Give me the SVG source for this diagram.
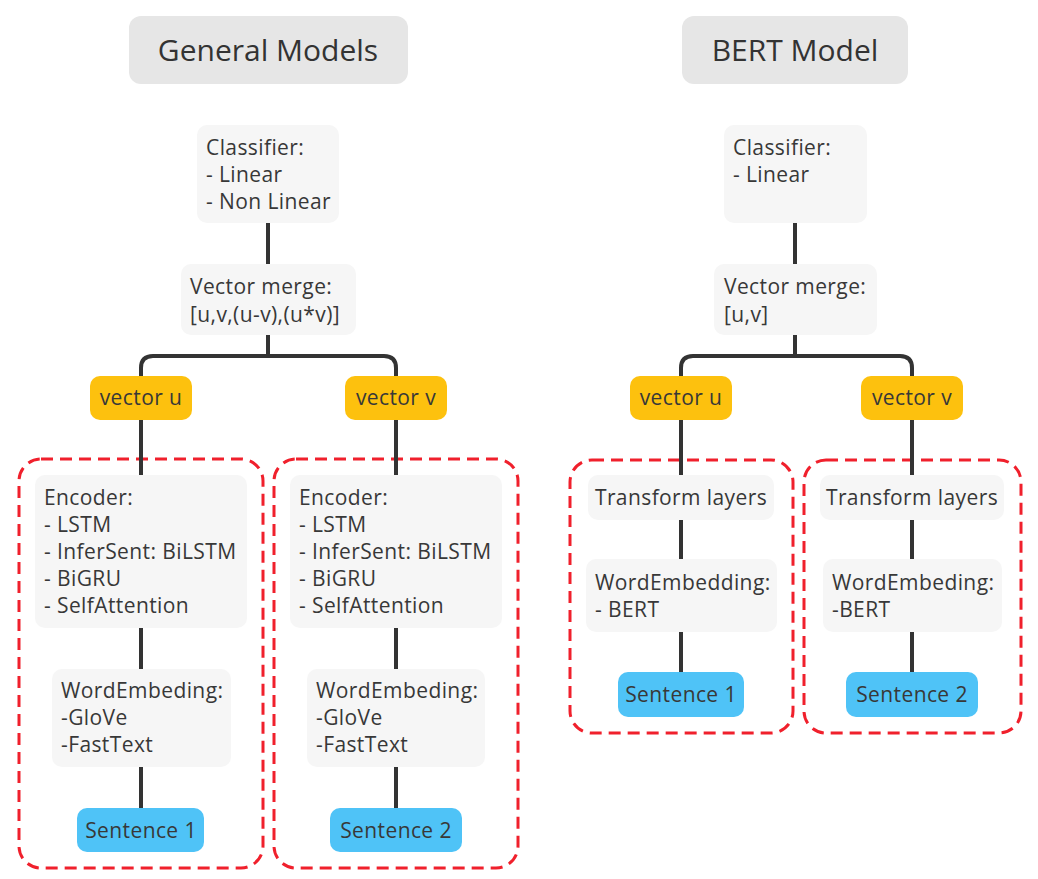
<svg xmlns="http://www.w3.org/2000/svg" width="1038" height="879" viewBox="0 0 1038 879">
<style>
.t{font-family:"Open Sans","Noto Sans",sans-serif;font-size:21px;letter-spacing:0.4px;fill:#383838}
.ttl{font-family:"Open Sans","Noto Sans",sans-serif;font-size:30px;fill:#333;text-anchor:middle}
.c{text-anchor:middle}
.box{fill:#f6f6f6}
.head{fill:#e6e6e6}
.vec{fill:#fdc10e}
.sen{fill:#4fc3f7}
.grp{fill:none;stroke:#f0202c;stroke-width:3;stroke-dasharray:12 7}
.ln{fill:none;stroke:#333;stroke-width:4}
</style>
<rect width="1038" height="879" fill="#fff"/>
<g id="groups">
<rect class="grp" x="19" y="459" width="244" height="409" rx="22"/>
<rect class="grp" x="274" y="459" width="244" height="409" rx="22"/>
<rect class="grp" x="570" y="460" width="223" height="273" rx="22"/>
<rect class="grp" x="804" y="460" width="217" height="273" rx="22"/>
</g>
<g id="connectors">
<path class="ln" d="M268,223V264"/>
<path class="ln" d="M268,335V356M141,378V368Q141,356 153,356H384Q396,356 396,368V378"/>
<path class="ln" d="M141,420V475M396,420V475"/>
<path class="ln" d="M141,628V669M396,628V669"/>
<path class="ln" d="M141,767V808M396,767V808"/>
<path class="ln" d="M795,223V264"/>
<path class="ln" d="M795,335V356M681,378V368Q681,356 693,356H900Q912,356 912,368V378"/>
<path class="ln" d="M681,420V475M912,420V475"/>
<path class="ln" d="M681,520V559M912,520V559"/>
<path class="ln" d="M681,632V672M912,632V672"/>
</g>
<g id="title-general"><rect class="head" x="129" y="16" width="279" height="68" rx="12"/><text class="ttl" x="268" y="61">General Models</text></g>
<g id="title-bert"><rect class="head" x="682" y="16" width="226" height="68" rx="12"/><text class="ttl" x="795" y="61">BERT Model</text></g>

<g id="g-classifier"><rect class="box" x="197" y="125" width="142" height="98" rx="10"/>
<text class="t" x="206" y="155">Classifier:</text><text class="t" x="206" y="182">- Linear</text><text class="t" x="206" y="209">- Non Linear</text></g>
<g id="g-merge"><rect class="box" x="181" y="264" width="175" height="71" rx="10"/>
<text class="t" x="190" y="294">Vector merge:</text><text class="t" x="190" y="322">[u,v,(u-v),(u*v)]</text></g>
<g id="g-vecu"><rect class="vec" x="90" y="376" width="102" height="44" rx="10"/><text class="t c" x="141" y="405">vector u</text></g>
<g id="g-vecv"><rect class="vec" x="345" y="376" width="102" height="44" rx="10"/><text class="t c" x="396" y="405">vector v</text></g>
<g id="g-enc1"><rect class="box" x="35" y="475" width="212" height="153" rx="10"/>
<text class="t" x="44" y="505">Encoder:</text><text class="t" x="44" y="532">- LSTM</text><text class="t" x="44" y="559">- InferSent: BiLSTM</text><text class="t" x="44" y="586">- BiGRU</text><text class="t" x="44" y="613">- SelfAttention</text></g>
<g id="g-enc2"><rect class="box" x="290" y="475" width="212" height="153" rx="10"/>
<text class="t" x="299" y="505">Encoder:</text><text class="t" x="299" y="532">- LSTM</text><text class="t" x="299" y="559">- InferSent: BiLSTM</text><text class="t" x="299" y="586">- BiGRU</text><text class="t" x="299" y="613">- SelfAttention</text></g>
<g id="g-we1"><rect class="box" x="52" y="669" width="179" height="98" rx="10"/>
<text class="t" x="61" y="698">WordEmbeding:</text><text class="t" x="61" y="725">-GloVe</text><text class="t" x="61" y="752">-FastText</text></g>
<g id="g-we2"><rect class="box" x="307" y="669" width="178" height="98" rx="10"/>
<text class="t" x="316" y="698">WordEmbeding:</text><text class="t" x="316" y="725">-GloVe</text><text class="t" x="316" y="752">-FastText</text></g>
<g id="g-s1"><rect class="sen" x="77" y="808" width="127" height="44" rx="10"/><text class="t c" x="141" y="838">Sentence 1</text></g>
<g id="g-s2"><rect class="sen" x="330" y="808" width="132" height="44" rx="10"/><text class="t c" x="396" y="838">Sentence 2</text></g>

<g id="b-classifier"><rect class="box" x="724" y="125" width="143" height="98" rx="10"/>
<text class="t" x="733" y="155">Classifier:</text><text class="t" x="733" y="182">- Linear</text></g>
<g id="b-merge"><rect class="box" x="714" y="264" width="163" height="71" rx="10"/>
<text class="t" x="724" y="294">Vector merge:</text><text class="t" x="724" y="322">[u,v]</text></g>
<g id="b-vecu"><rect class="vec" x="630" y="376" width="102" height="44" rx="10"/><text class="t c" x="681" y="405">vector u</text></g>
<g id="b-vecv"><rect class="vec" x="861" y="376" width="102" height="44" rx="10"/><text class="t c" x="912" y="405">vector v</text></g>
<g id="b-tr1"><rect class="box" x="588" y="475" width="186" height="45" rx="10"/><text class="t c" x="681" y="505">Transform layers</text></g>
<g id="b-tr2"><rect class="box" x="820" y="475" width="184" height="45" rx="10"/><text class="t c" x="912" y="505">Transform layers</text></g>
<g id="b-we1"><rect class="box" x="586" y="559" width="191" height="73" rx="10"/>
<text class="t" x="595" y="590">WordEmbedding:</text><text class="t" x="595" y="617">- BERT</text></g>
<g id="b-we2"><rect class="box" x="823" y="559" width="179" height="73" rx="10"/>
<text class="t" x="832" y="590">WordEmbeding:</text><text class="t" x="832" y="617">-BERT</text></g>
<g id="b-s1"><rect class="sen" x="618" y="672" width="126" height="45" rx="10"/><text class="t c" x="681" y="702">Sentence 1</text></g>
<g id="b-s2"><rect class="sen" x="846" y="672" width="132" height="45" rx="10"/><text class="t c" x="912" y="702">Sentence 2</text></g>
</svg>
